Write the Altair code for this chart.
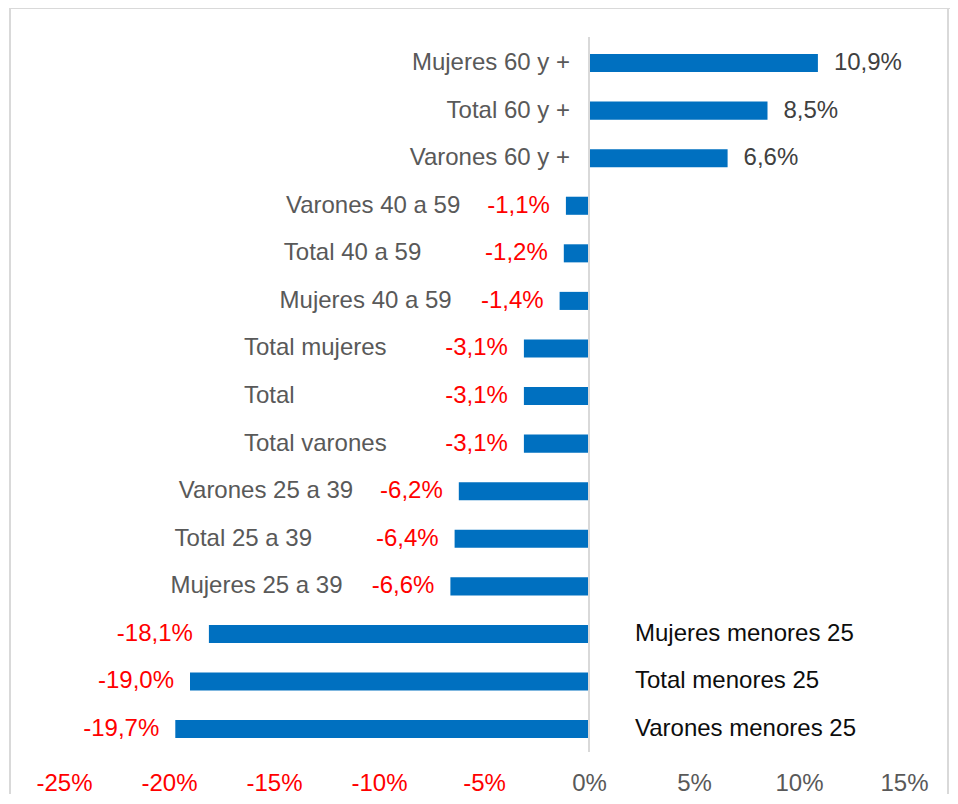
import altair as alt
import pandas as pd

categories = [
    "Mujeres 60 y +", "Total 60 y +", "Varones 60 y +",
    "Varones 40 a 59", "Total 40 a 59", "Mujeres 40 a 59",
    "Total mujeres", "Total", "Total varones",
    "Varones 25 a 39", "Total 25 a 39", "Mujeres 25 a 39",
    "Mujeres menores 25", "Total menores 25", "Varones menores 25",
]
values = [10.9, 8.5, 6.6, -1.1, -1.2, -1.4, -3.1, -3.1, -3.1,
          -6.2, -6.4, -6.6, -18.1, -19.0, -19.7]
tick_values = [-25, -20, -15, -10, -5, 0, 5, 10, 15]

df = pd.DataFrame({"cat": categories, "val": values})

W, H = 939, 786
FONT = "Liberation Sans"
FS = 24
x_scale = alt.Scale(domain=[-27.619, 17.095], nice=False, zero=False)
x_axis = alt.Axis(
    values=tick_values, labelExpr="datum.value + '%'", title=None,
    grid=False, ticks=False, tickSize=0, domain=False, orient="bottom",
    offset=-11, labelPadding=0, labelBaseline="middle",
    labelFont=FONT, labelFontSize=FS,
    labelColor={"condition": {"test": "datum.value < 0", "value": "#FF0000"}, "value": "#595959"},
)


def xenc(field):
    return alt.X(f"{field}:Q", scale=x_scale, axis=x_axis)


y_enc = alt.Y("cat:N", sort=categories, axis=None,
              scale=alt.Scale(range=[46.0, 730.1], paddingInner=0.62, paddingOuter=0))

base = alt.Chart(df).transform_calculate(
    zero="0",
    lbl="(datum.val < 0 ? '-' : '') + replace(format(abs(datum.val), '.1f'), '.', ',') + '%'",
).encode(y=y_enc)

bars = base.mark_bar(color="#0070C0").encode(x=xenc("val"), x2=alt.X2("zero:Q"))

one = base.transform_filter("datum.cat == '%s'" % categories[0])

zero_rule = one.mark_rule(color="#D9D9D9", strokeWidth=2).encode(
    x=xenc("zero"), y=alt.value(29), y2=alt.value(744)
)

frame_style = dict(color="#D9D9D9", strokeWidth=2)
frame_left = one.mark_rule(**frame_style).encode(x=alt.value(1), y=alt.value(0), y2=alt.value(H))
frame_top = one.mark_rule(**frame_style).encode(x=alt.value(0), x2=alt.value(W + 2), y=alt.value(0))
frame_right = one.mark_rule(**frame_style).encode(x=alt.value(W), y=alt.value(0), y2=alt.value(H))

txt = dict(font=FONT, fontSize=FS, baseline="middle")

pos_val = base.transform_filter("datum.val > 0").mark_text(
    align="left", dx=16, color="#404040", **txt
).encode(x=xenc("val"), text="lbl:N")

neg_val = base.transform_filter("datum.val < 0").mark_text(
    align="right", dx=-16, color="#FF0000", **txt
).encode(x=xenc("val"), text="lbl:N")

cat_pos = base.transform_filter("datum.val > 0").mark_text(
    align="right", dx=-19, color="#595959", **txt
).encode(x=xenc("zero"), text="cat:N")

cat_mid = base.transform_filter("datum.val < 0 && datum.val > -10").mark_text(
    align="left", dx=-280, color="#595959", **txt
).encode(x=xenc("val"), text="cat:N")

cat_low = base.transform_filter("datum.val <= -10").mark_text(
    align="left", dx=46, color="#0D0D0D", **txt
).encode(x=xenc("zero"), text="cat:N")

chart = alt.layer(
    frame_left, frame_top, frame_right, bars, zero_rule,
    pos_val, neg_val, cat_pos, cat_mid, cat_low
).properties(
    width=W, height=H,
    autosize=alt.AutoSizeParams(type="none"),
    padding={"left": 1, "top": 0, "right": 2, "bottom": 0},
).configure_view(stroke=None)

chart.save("out.html", embed_options={"renderer": "svg", "actions": False})
